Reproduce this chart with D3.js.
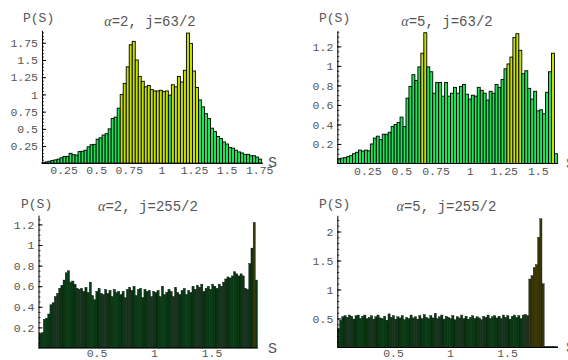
<!DOCTYPE html>
<html>
<head>
<meta charset="utf-8">
<script src="https://cdn.jsdelivr.net/npm/d3@7"></script>
<style>
  body { margin: 0; background: #fff; }
  svg text { font-family: "Liberation Mono", "DejaVu Sans Mono", monospace; fill: #555; }
</style>
</head>
<body>
<svg id="chart" width="568" height="360"></svg>
<script>
// panel titles
const titles = ['α=2, j=63/2', 'α=5, j=63/2', 'α=2, j=255/2', 'α=5, j=255/2'];

// histogram heights
const p1Values = [0.01, 0.02, 0.03, 0.04, 0.05, 0.06, 0.08, 0.1, 0.1, 0.145, 0.125, 0.12, 0.17,
  0.175, 0.19, 0.24, 0.27, 0.275, 0.35, 0.37, 0.41, 0.43, 0.5, 0.65, 0.67, 0.8,
  1.0, 1.16, 1.4, 1.72, 1.77, 1.5, 1.26, 1.19, 1.11, 1.13, 1.07, 1.05, 1.05, 1.06, 1.04, 1.05,
  0.99, 1.14, 1.11, 1.26, 1.18, 1.35, 1.89, 1.74, 1.34, 1.1, 0.92, 0.82, 0.72, 0.65, 0.51,
  0.46, 0.39, 0.36, 0.31, 0.28, 0.23, 0.22, 0.19, 0.165, 0.15, 0.13, 0.13, 0.11, 0.11, 0.09, 0.06];

const p2Values = [0.048, 0.055, 0.06, 0.07, 0.08, 0.1, 0.115, 0.137, 0.126, 0.137, 0.13, 0.2,
  0.26, 0.28, 0.245, 0.3, 0.3, 0.32, 0.38, 0.4, 0.42, 0.475, 0.38, 0.67, 0.79, 0.91, 0.85, 0.99,
  1.13, 1.34, 0.99, 0.94, 0.72, 0.83, 0.83, 0.69, 0.83, 0.69, 0.72, 0.78, 0.72, 0.79, 0.81, 0.71,
  0.66, 0.7, 0.69, 0.78, 0.75, 0.72, 0.65, 0.74, 0.72, 0.81, 0.78, 0.86, 0.97, 1.02, 1.09, 1.29,
  1.33, 1.16, 0.92, 0.95, 0.77, 0.66, 0.74, 0.54, 0.55, 0.51, 0.73, 0.94, 1.13, 0.1];

const p3Values = [0.14, 0.15, 0.28, 0.29, 0.33, 0.42, 0.44, 0.5, 0.53, 0.58, 0.61, 0.66, 0.73,
  0.75, 0.64, 0.65, 0.62, 0.58, 0.57, 0.58, 0.55, 0.59, 0.54, 0.64, 0.51, 0.47, 0.55, 0.58, 0.53,
  0.52, 0.57, 0.53, 0.56, 0.5, 0.57, 0.54, 0.55, 0.52, 0.55, 0.49, 0.57, 0.59, 0.56, 0.6, 0.51,
  0.57, 0.58, 0.49, 0.57, 0.55, 0.56, 0.5, 0.55, 0.54, 0.56, 0.5, 0.6, 0.52, 0.54, 0.57, 0.55,
  0.5, 0.59, 0.54, 0.52, 0.56, 0.58, 0.52, 0.56, 0.54, 0.6, 0.57, 0.61, 0.59, 0.62, 0.55, 0.58,
  0.6, 0.57, 0.62, 0.6, 0.58, 0.62, 0.6, 0.64, 0.67, 0.69, 0.68, 0.7, 0.74, 0.72, 0.7, 0.72, 0.7,
  0.58, 0.57, 0.82, 0.97, 1.22, 0.66];

const p4Values = [0.33, 0.47, 0.53, 0.55, 0.52, 0.56, 0.54, 0.49, 0.55, 0.56, 0.5, 0.54, 0.56,
  0.5, 0.52, 0.55, 0.49, 0.53, 0.56, 0.51, 0.5, 0.54, 0.47, 0.58, 0.52, 0.55, 0.49, 0.53, 0.51,
  0.55, 0.48, 0.52, 0.5, 0.56, 0.51, 0.53, 0.49, 0.55, 0.5, 0.57, 0.52, 0.5, 0.55, 0.51, 0.59,
  0.5, 0.53, 0.56, 0.49, 0.54, 0.52, 0.5, 0.55, 0.48, 0.53, 0.51, 0.56, 0.5, 0.54, 0.49, 0.52,
  0.55, 0.5, 0.53, 0.51, 0.48, 0.54, 0.52, 0.56, 0.5, 0.53, 0.55, 0.51, 0.54, 0.5, 0.56, 0.52,
  0.55, 0.49, 0.54, 0.56, 0.52, 0.55, 0.5, 0.56, 0.57, 0.55, 1.18, 1.24, 1.38, 1.43, 1.9, 2.22,
  1.1, 0.02, 0.02, 0.02, 0.02, 0.02, 0.02];

// tick values
const p1XTicks = [0.25, 0.5, 0.75, 1, 1.25, 1.5, 1.75];
const p1YTicks = [0.25, 0.5, 0.75, 1, 1.25, 1.5, 1.75];
const p2XTicks = [0.25, 0.5, 0.75, 1, 1.25, 1.5];
const p2YTicks = [0.2, 0.4, 0.6, 0.8, 1, 1.2];
const p3XTicks = [0.5, 1, 1.5];
const p3YTicks = [0.2, 0.4, 0.6, 0.8, 1, 1.2];
const p4XTicks = [0.5, 1, 1.5];
const p4YTicks = [0.5, 1, 1.5, 2];

const lightFills = { low: '#20e35a', high: '#c8e000' };
const darkFills = { low: '#0a3814', high: '#3a3806' };

// layout of each panel (pixel placement of the scales)
const panels = [
  { values: p1Values, title: titles[0], xTicks: p1XTicks, yTicks: p1YTicks, minor: 0.05,
    binStart: 0.084, binWidth: 0.02308, yMax: 1.93,
    xAt0: 31, xUnit: 130.4, axisL: 42, axisR: 263, yAt0: 163.3, yUnit: 68.9, xPad: 3,
    fills: lightFills, stroke: 0.9, edge: '#000',
    titleX: 150, titleY: 25.5, pX: 23, pY: 21.5, sX: 268, sY: 167 },
  { values: p2Values, title: titles[1], xTicks: p2XTicks, yTicks: p2YTicks, minor: 0.05,
    binStart: 0.033, binWidth: 0.02177, yMax: 1.36,
    xAt0: 333.2, xUnit: 136.4, axisL: 337.3, axisR: 558, yAt0: 163.5, yUnit: 97.6, xPad: 3,
    fills: lightFills, stroke: 0.9, edge: '#000',
    titleX: 447, titleY: 25.5, pX: 319, pY: 21.5, sX: 566, sY: 168 },
  { values: p3Values, title: titles[2], xTicks: p3XTicks, yTicks: p3YTicks, minor: 0.05,
    binStart: 0, binWidth: 0.019, yMax: 1.29,
    xAt0: 39, xUnit: 115, axisL: 38.5, axisR: 258, yAt0: 348, yUnit: 103, xPad: 1,
    fills: darkFills, stroke: 0.35, edge: '#021005',
    titleX: 148, titleY: 211, pX: 21, pY: 208, sX: 268, sY: 353 },
  { values: p4Values, title: titles[3], xTicks: p4XTicks, yTicks: p4YTicks, minor: 0.1,
    binStart: 0.012, binWidth: 0.0193, yMax: 2.28,
    xAt0: 336, xUnit: 114, axisL: 337.3, axisR: 558, yAt0: 347.5, yUnit: 58, xPad: 1,
    fills: darkFills, stroke: 0.35, edge: '#021005',
    titleX: 446.5, titleY: 211, pX: 319, pY: 208, sX: 566, sY: 352 }
];

const svg = d3.select('#chart');

panels.forEach(p => {
  const x = d3.scaleLinear().domain([0, 1]).range([p.xAt0, p.xAt0 + p.xUnit]);
  const y = d3.scaleLinear().domain([0, 1]).range([p.yAt0, p.yAt0 - p.yUnit]);
  const g = svg.append('g');

  // bars
  g.selectAll('.bar')
    .data(p.values)
    .enter()
    .append('rect')
    .attr('class', 'bar')
    .attr('x', (d, i) => x(p.binStart + i * p.binWidth))
    .attr('y', d => y(d))
    .attr('width', x(p.binWidth) - x(0))
    .attr('height', d => y(0) - y(d))
    .style('fill', d => d >= 1 ? p.fills.high : p.fills.low)
    .style('stroke', p.edge)
    .style('stroke-width', p.stroke);

  // x axis: line + labels
  const yAxisScale = y.copy().domain([0, p.yMax]).range([y(0), y(p.yMax)]);
  const xAxis = g.append('g')
    .attr('transform', `translate(0, ${p.yAt0})`)
    .call(d3.axisBottom(x).tickValues(p.xTicks).tickSize(0).tickPadding(p.xPad)
      .tickFormat(d => String(d)));
  xAxis.select('.domain').remove();
  xAxis.selectAll('text').style('font-size', '11.5px').style('fill', '#555');
  g.append('line')
    .attr('x1', p.axisL).attr('x2', p.axisR)
    .attr('y1', p.yAt0).attr('y2', p.yAt0)
    .style('stroke', '#000').style('stroke-width', 1);

  // y axis: minor ticks, major ticks with labels
  const minorTicks = d3.range(p.minor, p.yMax, p.minor);
  const yMinor = g.append('g')
    .attr('transform', `translate(${p.axisL}, 0)`)
    .call(d3.axisLeft(yAxisScale).tickValues(minorTicks).tickSize(-2).tickFormat(''));
  yMinor.select('.domain').remove();
  yMinor.selectAll('line').style('stroke', '#000').style('stroke-width', 0.8);

  const yAxis = g.append('g')
    .attr('transform', `translate(${p.axisL}, 0)`)
    .call(d3.axisLeft(yAxisScale).tickValues(p.yTicks).tickSize(-4).tickSizeOuter(0)
      .tickPadding(4).tickFormat(d => String(d)));
  yAxis.select('.domain').style('stroke', '#000').style('stroke-width', 1);
  yAxis.selectAll('line').style('stroke', '#000');
  yAxis.selectAll('text').style('font-size', '11.5px').style('fill', '#555');

  // labels
  g.append('text').attr('x', p.pX).attr('y', p.pY).style('font-size', '13px').text('P(S)');
  const t = g.append('text').attr('x', p.titleX).attr('y', p.titleY)
    .attr('text-anchor', 'middle').style('font-size', '14px');
  t.append('tspan').style('font-family', '"Liberation Serif", serif').style('font-style', 'italic')
    .text(p.title.slice(0, 1));
  t.append('tspan').text(p.title.slice(1));
  g.append('text').attr('x', p.sX).attr('y', p.sY).style('font-size', '15px').text('S');
});
</script>
</body>
</html>
